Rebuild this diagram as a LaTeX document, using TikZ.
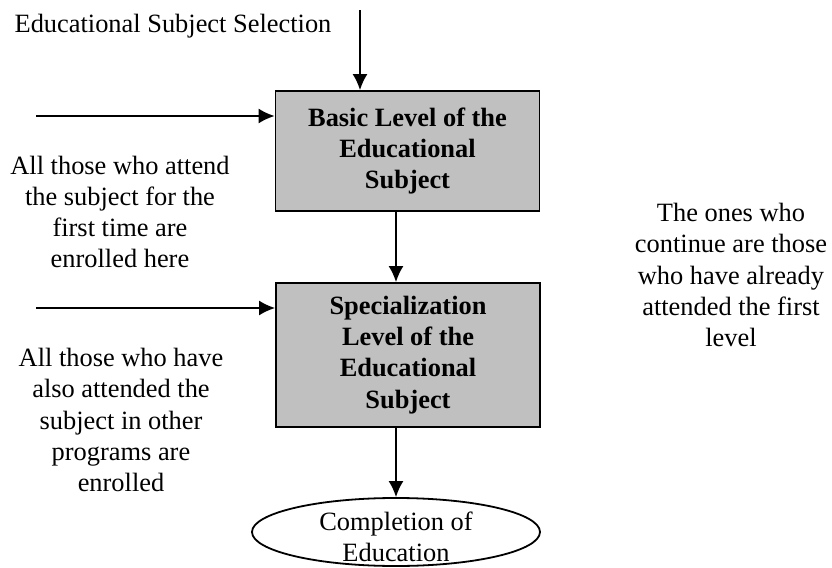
\documentclass[tikz,border=0pt]{standalone}
\usepackage{fontspec}
\setmainfont{Liberation Serif}
\usetikzlibrary{arrows.meta,shapes.geometric}
\definecolor{levelgray}{HTML}{C0C0C0}

\begin{document}
\begin{tikzpicture}[x = 0.5pt, y = -0.5pt,
        every node/.style = {font = \fontsize{13.2}{15.6}\selectfont},
        level/.style = {draw, line width = 0.9pt, fill = levelgray, minimum width = 132pt,
            align = center, font = \fontsize{13.2}{15.6}\selectfont\bfseries},
        note/.style = {align = center},
        flow/.style = {line width = 0.9pt, -{Latex[length = 8pt, width = 7.5pt]}}]
        \useasboundingbox (0,0) rectangle (832,568);
        % texts
        \node[note] (sel) at (173,26) {Educational Subject Selection};
        \node[note] (first) at (120,212) {All those who attend\\the subject for the\\first time are\\enrolled here};
        \node[note] (other) at (121,420) {All those who have\\also attended the\\subject in other\\programs are\\enrolled};
        \node[note] (cont) at (731,275) {The ones who\\continue are those\\who have already\\attended the first\\level};
        % levels
        \node[level, minimum height = 60pt] (basic) at (407.5,151) {Basic Level of the\\Educational\\Subject};
        \node[level, minimum height = 72pt] (spec) at (408,355) {Specialization\\Level of the\\Educational\\Subject};
        \node[ellipse, draw, line width = 0.9pt, minimum width = 144pt, minimum height = 34pt] (fin) at (396,532) {};
        \node[note] (fintext) at (396,537) {Completion of\\Education};
        % arrows
        \coordinate (src) at (360,10);
        \coordinate (in1) at (36,116);
        \coordinate (in2) at (36,308);
        \draw[flow] (src) -- (src |- basic.north);
        \draw[flow] (in1) -- (in1 -| basic.west);
        \draw[flow] (in2) -- (in2 -| spec.west);
        \draw[flow] (basic.south -| fin.north) -- (spec.north -| fin.north);
        \draw[flow] (spec.south -| fin.north) -- (fin.north);
    \end{tikzpicture}
\end{document}
